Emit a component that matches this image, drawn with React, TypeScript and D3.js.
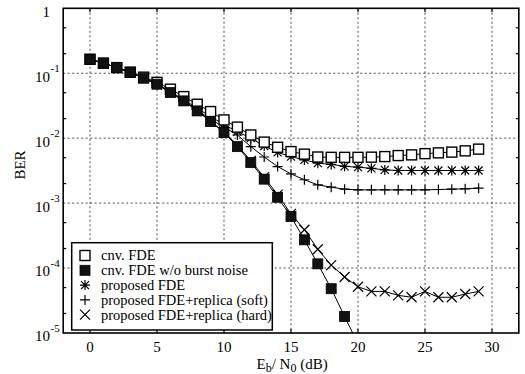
import React from "react";
import * as d3 from "d3";

// Eb/N0 (dB) sample points
const snr = d3.range(0, 30);

// BER curves
const cnvFde = [
  0.164, 0.143, 0.122, 0.104, 0.087, 0.0724, 0.0568, 0.0437, 0.0333, 0.0257,
  0.0191, 0.0148, 0.0112, 0.0087, 0.00724, 0.00622, 0.00568, 0.00513, 0.00507, 0.00507,
  0.00507, 0.0051, 0.00521, 0.0054, 0.00553, 0.00578, 0.00594, 0.0061, 0.00638, 0.00678,
];
const cnvNoBurst = [
  0.164, 0.143, 0.122, 0.1035, 0.0838, 0.0678, 0.0504, 0.0375, 0.0263, 0.018,
  0.0122, 0.00741, 0.00422, 0.00234, 0.00123, 0.000622, 0.000272, 0.000116, 4.81e-5, 1.8e-5,
  6.8e-6,
];
const proposedFde = [
  0.164, 0.143, 0.122, 0.1035, 0.085, 0.069, 0.052, 0.039, 0.029, 0.0215,
  0.0162, 0.0126, 0.01, 0.00759, 0.00603, 0.00521, 0.00463, 0.00412, 0.00395, 0.00368,
  0.00358, 0.00343, 0.00325, 0.00318, 0.00318, 0.00318, 0.00318, 0.00318, 0.00318, 0.00318,
];
const replicaSoft = [
  0.164, 0.143, 0.122, 0.1035, 0.0838, 0.0678, 0.051, 0.038, 0.0272, 0.0195,
  0.0148, 0.0112, 0.00741, 0.00513, 0.00366, 0.00282, 0.00229, 0.00191, 0.00176, 0.00164,
  0.0016, 0.0016, 0.0016, 0.0016, 0.0016, 0.0016, 0.00162, 0.00164, 0.00166, 0.0017,
];
const replicaHard = [
  0.164, 0.143, 0.122, 0.1035, 0.0838, 0.0678, 0.0506, 0.0378, 0.0266, 0.0183,
  0.0125, 0.00776, 0.00447, 0.00251, 0.00135, 0.000684, 0.000389, 0.000195, 0.000111, 7.28e-5,
  5.15e-5, 4.37e-5, 4.37e-5, 3.8e-5, 3.55e-5, 4.37e-5, 3.55e-5, 3.55e-5, 3.98e-5, 4.37e-5,
];

const xTicks = [0, 5, 10, 15, 20, 25, 30];
const yDecades = [0, -1, -2, -3, -4, -5];
const legendLabels = [
  "cnv. FDE",
  "cnv. FDE w/o burst noise",
  "proposed FDE",
  "proposed FDE+replica (soft)",
  "proposed FDE+replica (hard)",
];

const W = 525;
const H = 374;
const left = 63.2;
const right = 518.8;
const top = 8.3;
const bottom = 333;
const font = '"Liberation Serif", "Times New Roman", "DejaVu Serif", serif';

type Kind = "open" | "filled" | "star" | "plus" | "cross";

const Marker = ({ x, y, kind }: { x: number; y: number; kind: Kind }) => {
  const s = 5;
  if (kind === "open")
    return <rect x={x - s} y={y - s} width={2 * s} height={2 * s} fill="#fff" stroke="#000" strokeWidth={1.4} />;
  if (kind === "filled")
    return <rect x={x - s} y={y - s} width={2 * s} height={2 * s} fill="#111" stroke="#000" strokeWidth={0.8} />;
  const d =
    kind === "plus"
      ? `M${x - s},${y}H${x + s}M${x},${y - s}V${y + s}`
      : kind === "cross"
      ? `M${x - s},${y - s}L${x + s},${y + s}M${x - s},${y + s}L${x + s},${y - s}`
      : `M${x - 4},${y - 4}L${x + 4},${y + 4}M${x - 4},${y + 4}L${x + 4},${y - 4}M${x},${y - 5}V${y + 5}M${x - 5},${y}H${x + 5}`;
  return <path d={d} stroke="#000" strokeWidth={1.2} fill="none" />;
};

export default function App() {
  const x = d3.scaleLinear().domain([-2, 32]).range([left, right]);
  const y = d3.scaleLog().domain([1e-5, 1]).range([bottom, top]);
  const line = d3
    .line<number>()
    .x((_, i) => x(snr[i] ?? i))
    .y((d) => y(d));

  const series: { data: number[]; kind: Kind }[] = [
    { data: replicaHard, kind: "cross" },
    { data: replicaSoft, kind: "plus" },
    { data: proposedFde, kind: "star" },
    { data: cnvFde, kind: "open" },
    { data: cnvNoBurst, kind: "filled" },
  ];
  const legendKinds: Kind[] = ["open", "filled", "star", "plus", "cross"];

  const minor: number[] = [];
  yDecades.slice(1).forEach((e) => {
    minor.push(2 * Math.pow(10, e), 5 * Math.pow(10, e));
  });

  return (
    <svg width={W} height={H} style={{ position: "absolute", left: 0, top: 0, background: "#fff", fontFamily: font }}>
      <defs>
        <clipPath id="plot">
          <rect x={left} y={top} width={right - left} height={bottom - top} />
        </clipPath>
      </defs>

      {/* grid */}
      {xTicks.map((t) => (
        <line key={"gx" + t} x1={x(t)} x2={x(t)} y1={top} y2={bottom} stroke="#222" strokeWidth={0.8} strokeDasharray="2,2.5" />
      ))}
      {yDecades.slice(1, 5).map((e) => (
        <line key={"gy" + e} x1={left} x2={right} y1={y(Math.pow(10, e))} y2={y(Math.pow(10, e))} stroke="#222" strokeWidth={0.8} strokeDasharray="2,2.5" />
      ))}

      {/* ticks */}
      {xTicks.map((t) => (
        <g key={"tx" + t} stroke="#000" strokeWidth={1.2}>
          <line x1={x(t)} x2={x(t)} y1={bottom} y2={bottom - 4} />
          <line x1={x(t)} x2={x(t)} y1={top} y2={top + 4} />
        </g>
      ))}
      {minor.map((v, i) => (
        <g key={"my" + i} stroke="#000" strokeWidth={1.2}>
          <line x1={left} x2={left + 3} y1={y(v)} y2={y(v)} />
          <line x1={right} x2={right - 3} y1={y(v)} y2={y(v)} />
        </g>
      ))}

      {/* curves */}
      <g clipPath="url(#plot)">
        {series.map((s) => (
          <path key={"l" + s.kind} d={line(s.data) ?? ""} fill="none" stroke="#000" strokeWidth={1} />
        ))}
        {series.map((s) =>
          s.data.map((v, i) => <Marker key={s.kind + i} x={x(i)} y={y(v)} kind={s.kind} />)
        )}
      </g>

      {/* frame */}
      <rect x={left} y={top} width={right - left} height={bottom - top} fill="none" stroke="#000" strokeWidth={1.6} />

      {/* axis labels */}
      {xTicks.map((t) => (
        <text key={"lx" + t} x={x(t)} y={351.5} textAnchor="middle" fontSize={15}>
          {t}
        </text>
      ))}
      {yDecades.map((e) => {
        const yy = y(Math.pow(10, e));
        if (e === 0)
          return (
            <text key="ly0" x={50} y={yy + 8.4} textAnchor="end" fontSize={15}>
              1
            </text>
          );
        return (
          <g key={"ly" + e}>
            <text x={50} y={yy + 8.4} textAnchor="end" fontSize={15}>
              10
            </text>
            <text x={50.5} y={yy - 1.5} fontSize={11}>
              {String(e)}
            </text>
          </g>
        );
      })}
      <text transform="translate(25,165) rotate(-90)" textAnchor="middle" fontSize={15}>
        BER
      </text>
      <text x={256.5} y={369} fontSize={15} xmlSpace="preserve">
        E<tspan dy={2.5} fontSize={12}>b</tspan>
        <tspan dy={-2.5}>/ N</tspan>
        <tspan dy={2.5} fontSize={12}>0</tspan>
        <tspan dy={-2.5}> (dB)</tspan>
      </text>

      {/* legend */}
      <rect x={71.7} y={242.7} width={200.6} height={87.3} fill="#fff" stroke="#000" strokeWidth={1.5} />
      {legendLabels.map((lab, i) => {
        const cy = 255.5 + i * 14.8;
        return (
          <g key={"lg" + i}>
            <Marker x={85} y={cy} kind={legendKinds[i]} />
            <text x={101} y={cy + 4.8} fontSize={14.5}>
              {lab}
            </text>
          </g>
        );
      })}
    </svg>
  );
}
